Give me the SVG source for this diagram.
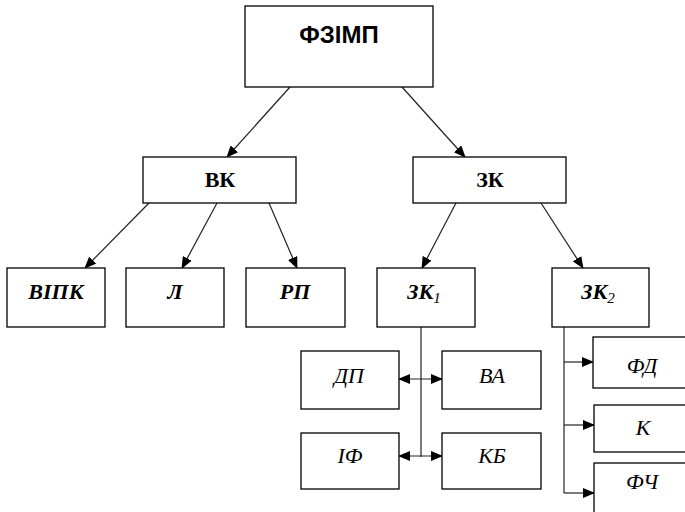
<svg xmlns="http://www.w3.org/2000/svg" width="685" height="512" viewBox="0 0 685 512">
<style>
.box{fill:#fff;stroke:#000;stroke-width:1.3}
.ln{stroke:#222;stroke-width:1.2;fill:none}
</style>
<defs>
<marker id="ah" markerWidth="12" markerHeight="10" refX="11" refY="5" orient="auto" markerUnits="userSpaceOnUse">
<path d="M0,0 L12,5 L0,10 Z" fill="#000"/>
</marker>
<marker id="as" markerWidth="12" markerHeight="10" refX="1" refY="5" orient="auto" markerUnits="userSpaceOnUse">
<path d="M12,0 L0,5 L12,10 Z" fill="#000"/>
</marker>
</defs>
<g id="connectors">
<line class="ln" x1="290" y1="87" x2="227" y2="157" marker-end="url(#ah)"/>
<line class="ln" x1="402" y1="87" x2="465" y2="157" marker-end="url(#ah)"/>
<line class="ln" x1="149" y1="203" x2="85" y2="268" marker-end="url(#ah)"/>
<line class="ln" x1="217" y1="203" x2="182" y2="268" marker-end="url(#ah)"/>
<line class="ln" x1="269" y1="203" x2="297" y2="268" marker-end="url(#ah)"/>
<line class="ln" x1="456" y1="203" x2="422" y2="268" marker-end="url(#ah)"/>
<line class="ln" x1="541" y1="203" x2="583" y2="268" marker-end="url(#ah)"/>
<line class="ln" x1="421" y1="327" x2="421" y2="457"/>
<line class="ln" x1="399" y1="379" x2="442" y2="379" marker-start="url(#as)" marker-end="url(#ah)"/>
<line class="ln" x1="399" y1="456" x2="442" y2="456" marker-start="url(#as)" marker-end="url(#ah)"/>
<line class="ln" x1="564" y1="327" x2="564" y2="493"/>
<line class="ln" x1="564" y1="362" x2="593" y2="362" marker-end="url(#ah)"/>
<line class="ln" x1="564" y1="425" x2="594" y2="425" marker-end="url(#ah)"/>
<line class="ln" x1="564" y1="493" x2="594" y2="493" marker-end="url(#ah)"/>
</g>
<g id="n-fzimp"><rect class="box" x="245" y="6" width="188" height="81"/><text x="339" y="43" text-anchor="middle" font-family="Liberation Sans" font-weight="bold" font-size="24">ФЗІМП</text></g>
<g id="n-vk"><rect class="box" x="143" y="157" width="153" height="46"/><text x="220" y="187" text-anchor="middle" font-family="Liberation Serif" font-weight="bold" font-size="22">ВК</text></g>
<g id="n-zk"><rect class="box" x="413" y="157" width="153" height="46"/><text x="490" y="187" text-anchor="middle" font-family="Liberation Serif" font-weight="bold" font-size="22">ЗК</text></g>
<g id="n-vipk"><rect class="box" x="7" y="268" width="98" height="59"/><text x="56" y="299" text-anchor="middle" font-family="Liberation Serif" font-weight="bold" font-style="italic" font-size="22">ВІПК</text></g>
<g id="n-l"><rect class="box" x="126" y="268" width="98" height="59"/><text x="175" y="299" text-anchor="middle" font-family="Liberation Serif" font-weight="bold" font-style="italic" font-size="22">Л</text></g>
<g id="n-rp"><rect class="box" x="246" y="268" width="99" height="59"/><text x="295" y="299" text-anchor="middle" font-family="Liberation Serif" font-weight="bold" font-style="italic" font-size="22">РП</text></g>
<g id="n-zk1"><rect class="box" x="377" y="268" width="98" height="59"/><text x="424" y="299" text-anchor="middle" font-family="Liberation Serif" font-weight="bold" font-style="italic" font-size="22">ЗК<tspan font-size="15" font-weight="normal" dy="4">1</tspan></text></g>
<g id="n-zk2"><rect class="box" x="552" y="268" width="97" height="59"/><text x="598" y="299" text-anchor="middle" font-family="Liberation Serif" font-weight="bold" font-style="italic" font-size="22">ЗК<tspan font-size="15" font-weight="normal" dy="4">2</tspan></text></g>
<g id="n-dp"><rect class="box" x="301" y="351" width="98" height="58"/><text x="349" y="383" text-anchor="middle" font-family="Liberation Serif" font-style="italic" font-size="22">ДП</text></g>
<g id="n-va"><rect class="box" x="442" y="351" width="99" height="58"/><text x="492" y="383" text-anchor="middle" font-family="Liberation Serif" font-style="italic" font-size="22">ВА</text></g>
<g id="n-if"><rect class="box" x="301" y="433" width="98" height="56"/><text x="350" y="463" text-anchor="middle" font-family="Liberation Serif" font-style="italic" font-size="22">ІФ</text></g>
<g id="n-kb"><rect class="box" x="442" y="433" width="99" height="56"/><text x="492" y="463" text-anchor="middle" font-family="Liberation Serif" font-style="italic" font-size="22">КБ</text></g>
<g id="n-fd"><rect class="box" x="593" y="337" width="100" height="51"/><text x="642" y="373" text-anchor="middle" font-family="Liberation Serif" font-style="italic" font-size="22">ФД</text></g>
<g id="n-k"><rect class="box" x="594" y="405" width="100" height="47"/><text x="643" y="435" text-anchor="middle" font-family="Liberation Serif" font-style="italic" font-size="22">К</text></g>
<g id="n-fch"><rect class="box" x="594" y="463" width="100" height="60"/><text x="642" y="489" text-anchor="middle" font-family="Liberation Serif" font-style="italic" font-size="22">ФЧ</text></g>
</svg>
